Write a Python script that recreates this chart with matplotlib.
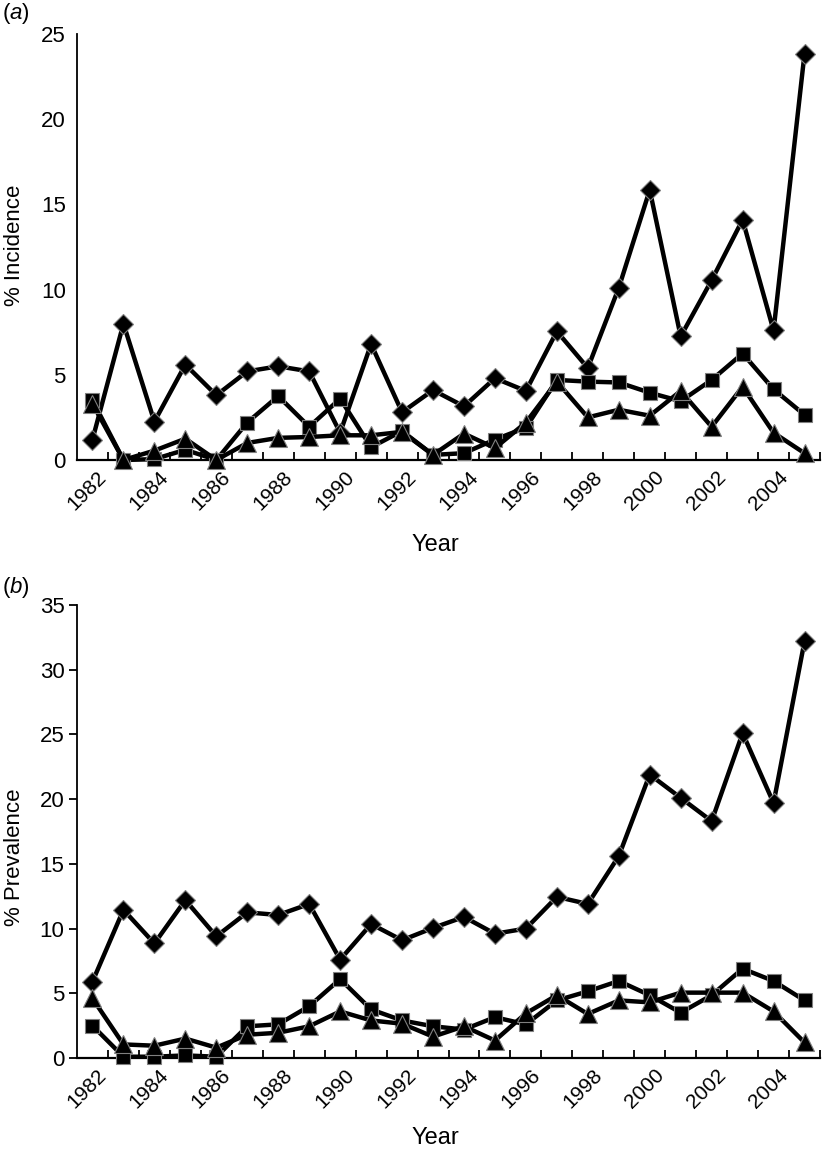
import matplotlib
matplotlib.use('Agg')
import matplotlib.pyplot as plt
import matplotlib.transforms as mtransforms
import numpy as np

plt.rcParams['font.family'] = ['Liberation Sans', 'DejaVu Sans']
plt.rcParams['mathtext.fontset'] = 'custom'
plt.rcParams['mathtext.it'] = 'Liberation Sans:italic'
plt.rcParams['mathtext.rm'] = 'Liberation Sans'

years = list(range(1982, 2006))
year_labels = [str(y) for y in range(1982, 2005, 2)]

inc_diamond = [1.2, 8.0, 2.25, 5.6, 3.8, 5.2, 5.5, 5.2, 1.6, 6.8, 2.8, 4.1,
               3.15, 4.8, 4.05, 7.55, 5.4, 10.1, 15.85, 7.25, 10.55, 14.1, 7.6, 23.85]
inc_square = [3.5, 0.0, 0.05, 0.6, 0.0, 2.2, 3.75, 1.95, 3.6, 0.75, 1.7, 0.3,
              0.4, 1.2, 1.9, 4.7, 4.6, 4.55, 3.95, 3.45, 4.7, 6.25, 4.15, 2.65]
inc_triangle = [3.3, 0.0, 0.55, 1.25, 0.0, 1.0, 1.3, 1.35, 1.45, 1.45, 1.65, 0.3,
                1.55, 0.7, 2.2, 4.6, 2.5, 2.95, 2.6, 4.05, 1.95, 4.3, 1.6, 0.4]

prev_diamond = [5.9, 11.45, 8.85, 12.2, 9.4, 11.25, 11.05, 11.9, 7.6, 10.35, 9.1, 10.05,
                10.9, 9.6, 10.0, 12.45, 11.9, 15.6, 21.9, 20.1, 18.3, 25.1, 19.7, 32.2]
prev_square = [2.5, 0.1, 0.1, 0.2, 0.1, 2.45, 2.6, 4.0, 6.1, 3.75, 2.9, 2.45,
               2.2, 3.15, 2.6, 4.45, 5.15, 5.95, 4.85, 3.5, 4.85, 6.9, 5.95, 4.45]
prev_triangle = [4.6, 1.05, 0.95, 1.5, 0.8, 1.8, 1.95, 2.45, 3.6, 2.9, 2.65, 1.65,
                 2.45, 1.35, 3.45, 4.85, 3.4, 4.45, 4.3, 5.05, 5.05, 5.05, 3.6, 1.2]

W, H = 822, 1152
fig = plt.figure(figsize=(W / 100, H / 100), dpi=100)


def px_axes(left, right, top, bottom):
    return fig.add_axes([left / W, 1 - bottom / H, (right - left) / W, (bottom - top) / H])


ax_a = px_axes(77, 820, 34, 460)
ax_b = px_axes(77, 820, 605, 1058)

x = np.arange(len(years))
edge = '#808080'


def draw(ax, d, s, t, ymax, yticks_len):
    ax.plot(x, d, color='black', lw=3.2, marker='D', ms=10.5, mfc='black', mec=edge, mew=0.8,
            clip_on=False, zorder=3)
    ax.plot(x, s, color='black', lw=3.2, marker='s', ms=10.5, mfc='black', mec=edge, mew=0.8,
            clip_on=False, zorder=4)
    ax.plot(x, t, color='black', lw=3.2, marker='^', ms=12.5, mfc='black', mec=edge, mew=0.8,
            clip_on=False, zorder=5)
    ax.set_xlim(-0.5, len(years) - 0.5)
    ax.set_ylim(0, ymax)
    for sp in ['top', 'right']:
        ax.spines[sp].set_visible(False)
    ax.spines['left'].set_linewidth(1.3)
    ax.spines['bottom'].set_linewidth(1.6)
    ax.set_yticks(np.arange(0, ymax + 1, 5))
    ax.tick_params(axis='y', labelsize=16, length=yticks_len, width=1.3, direction='out',
                   pad=8 if yticks_len == 0 else 3)
    ax.set_xticks([])
    ax.set_xticks(np.arange(0.5, len(years), 1), minor=True)
    ax.tick_params(axis='x', which='minor', direction='in', length=6, width=1.3)
    ax.set_xticklabels([], minor=True)
    off = mtransforms.ScaledTranslation(8 / 72, -10 / 72, fig.dpi_scale_trans)
    tr = ax.get_xaxis_transform() + off
    for i, lab in enumerate(year_labels):
        ax.text(2 * i, 0, lab, transform=tr, rotation=45, rotation_mode='anchor',
                ha='right', va='center', fontsize=15)
    ax.patch.set_alpha(0)


draw(ax_a, inc_diamond, inc_square, inc_triangle, 25, 0)
draw(ax_b, prev_diamond, prev_square, prev_triangle, 35, 6)

fig.text(15 / W, 1 - 245 / H, '% Incidence', fontsize=16, rotation=90, va='center', ha='center')
fig.text(15 / W, 1 - 857 / H, '% Prevalence', fontsize=16, rotation=90, va='center', ha='center')
fig.text(2 / W, 1 - 14 / H, r'($\it{a}$)', fontsize=16, va='center', ha='left')
fig.text(2 / W, 1 - 588 / H, r'($\it{b}$)', fontsize=16, va='center', ha='left')
fig.text(435 / W, 1 - 545 / H, 'Year', fontsize=17, va='center', ha='center')
fig.text(435 / W, 1 - 1138 / H, 'Year', fontsize=17, va='center', ha='center')

fig.savefig('out.png', dpi=100)
